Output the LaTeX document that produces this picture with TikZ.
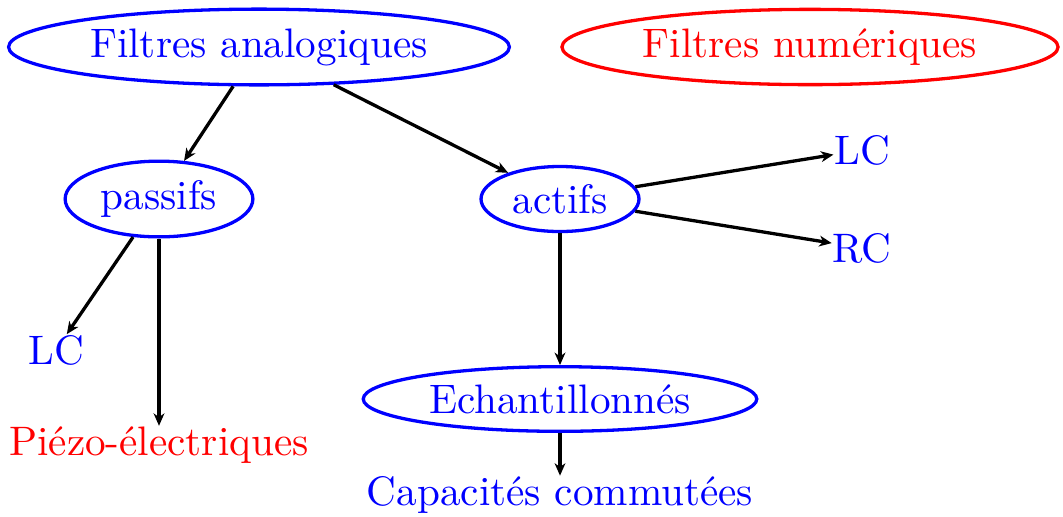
\documentclass[tikz,border=0pt]{standalone}
\usepackage{xcolor}
\usepackage{tikz}
\usetikzlibrary{calc}
\usetikzlibrary{arrows.meta}
\usetikzlibrary{positioning}
\usetikzlibrary{shapes.geometric}

\begin{document}
\begin{tikzpicture}[x=0.2427pt,y=-0.2427pt]
% 1 = one pixel of the reference
    \def\XLEFT{159}  %passive column
    \def\XMID{560}   %active column
    \def\XRIGHT{862} %LC / RC column
    \def\YTOP{47}
    \def\YTWO{199}

    \tikzset{
      famille/.style={ellipse,draw=blue,thick,text=blue,inner sep=2pt},
      numfam/.style={ellipse,draw=red,thick,text=red,inner sep=2pt},
      feuille/.style={text=blue,inner sep=0pt},
      fleche/.style={-{Stealth[length=3pt,width=2.6pt,inset=0.9pt]},thick},
    }

    \useasboundingbox (0,0) rectangle (1063,516);

    % TOP ROW
    \node[famille] (analog) at (259,\YTOP) {Filtres analogiques};
    \node[numfam] (numerique) at (810,\YTOP) {Filtres num\'eriques};

    % SECOND ROW
    \node[famille] (passifs) at (\XLEFT,\YTWO) {passifs};
    \node[famille] (actifs) at (\XMID,\YTWO) {actifs};

    %active leaves
    \node[feuille] (lcactif) at (\XRIGHT,150) {LC};
    \node[feuille] (rcactif) at (\XRIGHT,248) {RC};
    \node[famille] (echant) at (\XMID,399) {Echantillonn\'es};
    \node[feuille] (capa) at (\XMID,495) {Capacit\'es commut\'ees};

    %passive leaves
    \node[feuille] (lcpassif) at (56,350) {LC};
    \node[text=red,inner sep=0pt] (piezo) at (\XLEFT,445) {Pi\'ezo-\'electriques};

    % ARROWS
    \draw[fleche] (analog) -- (passifs);
    \draw[fleche] (analog) -- (actifs);
    \draw[fleche] (actifs) -- (lcactif);
    \draw[fleche] (actifs) -- (rcactif);
    \draw[fleche] (actifs) -- (echant);
    \draw[fleche] (echant) -- (capa);
    \draw[fleche] (passifs) -- (lcpassif);
    \draw[fleche] (passifs) -- (piezo);

\end{tikzpicture}
\end{document}
